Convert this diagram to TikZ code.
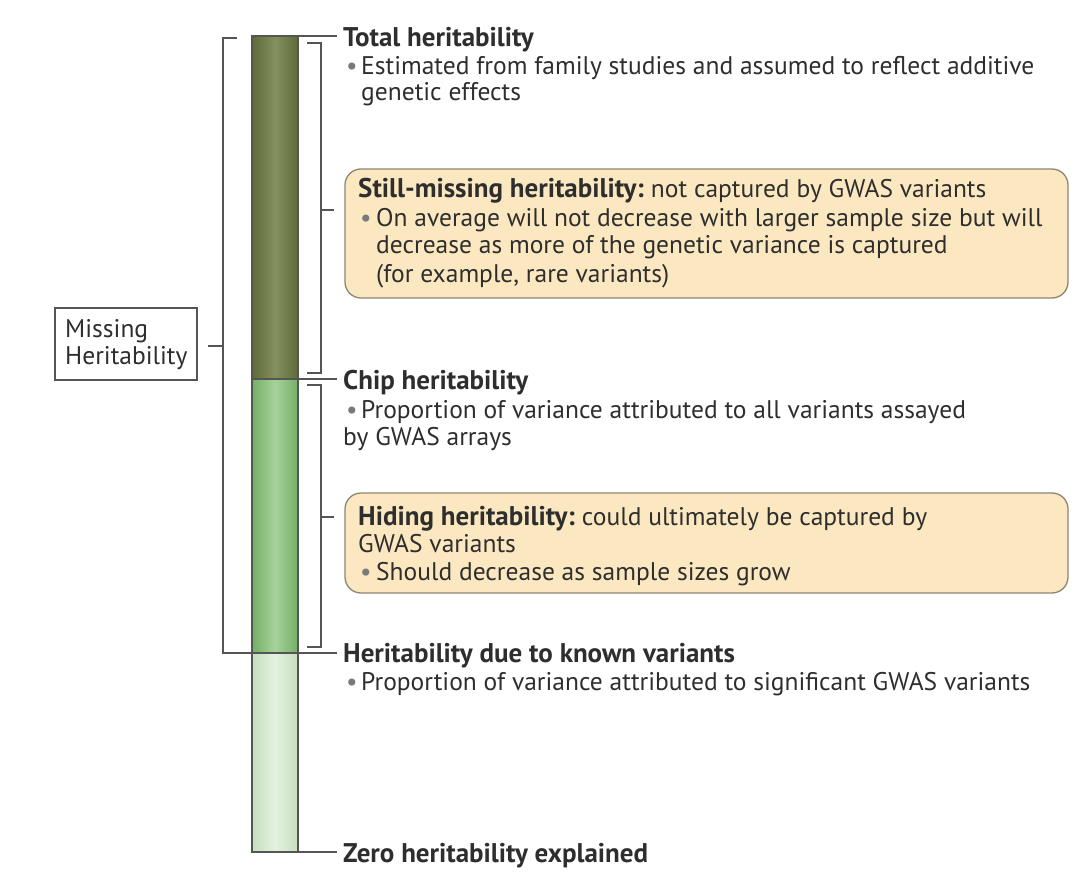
\documentclass[tikz,border=0pt]{standalone}
\usepackage{fontspec}
\setmainfont{PT Sans}
\usetikzlibrary{calc}
\definecolor{txt}{HTML}{2E2E2E}
\definecolor{bul}{HTML}{7A7A7A}
\definecolor{brk}{HTML}{555555}
\definecolor{dkA}{HTML}{5E6B38}
\definecolor{dkB}{HTML}{84915E}
\definecolor{mdA}{HTML}{74AF66}
\definecolor{mdB}{HTML}{A6D29A}
\definecolor{ltA}{HTML}{C4E0BD}
\definecolor{ltB}{HTML}{E4F1E0}
\definecolor{boxfill}{HTML}{FBE8C0}
\definecolor{boxdraw}{HTML}{8E8572}
\begin{document}
\begin{tikzpicture}[x=1pt,y=-1pt,
  barseg/.style={draw=brk,line width=1.6pt,minimum width=46pt,inner sep=0pt,outer sep=0pt},
  brack/.style={draw=brk,line width=1.3pt},
  ttl/.style={anchor=base west,inner sep=0pt,font=\fontsize{27}{30}\selectfont\bfseries,text=txt},
  body/.style={anchor=base west,inner sep=0pt,font=\fontsize{25.5}{28}\selectfont,text=txt},
  bult/.style={anchor=base west,inner sep=0pt,font=\fontsize{25.5}{28}\selectfont,text=bul},
  infobox/.style={draw=boxdraw,line width=1.3pt,fill=boxfill,rounded corners=16pt,inner sep=0pt}]
\useasboundingbox (0,0) rectangle (1080,888);
% bar segments
\node[barseg,minimum height=343pt,left color=dkA,right color=dkA,middle color=dkB] (seg1) at (275,207.5) {};
\node[barseg,minimum height=274pt,left color=mdA,right color=mdA,middle color=mdB] (seg2) at (275,516) {};
\node[barseg,minimum height=199pt,left color=ltA,right color=ltA,middle color=ltB] (seg3) at (275,752.5) {};
% info boxes
\node[infobox,minimum width=723pt,minimum height=129pt] (box1) at (706.5,233.5) {};
\node[infobox,minimum width=723pt,minimum height=100pt] (box2) at (706.5,543) {};
% texts
\node[ttl] (t1) at (343,47) {Total heritability};
\node[bult] (b1) at (346,75) {•};
\node[body] (t1a) at (361,75) {Estimated from family studies and assumed to reflect additive};
\node[body] (t1b) at (361,101) {genetic effects};

\node[ttl] (s1) at (358,198) {Still-missing heritability:};
\node[body] (s1x) at (s1.base east) {\ not captured by GWAS variants};
\node[bult] (b2) at (360,226) {•};
\node[body] (s1a) at (376,226) {On average will not decrease with larger sample size but will};
\node[body] (s1b) at (376,254) {decrease as more of the genetic variance is captured};
\node[body] (s1c) at (376,282) {(for example, rare variants)};

\node[ttl] (c1) at (343,389) {Chip heritability};
\node[bult] (b3) at (346,418) {•};
\node[body] (c1a) at (361,418) {Proportion of variance attributed to all variants assayed};
\node[body] (c1b) at (343,445) {by GWAS arrays};

\node[ttl] (h1) at (358,525) {Hiding heritability:};
\node[body] (h1x) at (h1.base east) {\ could ultimately be captured by};
\node[body] (h1a) at (358,552) {GWAS variants};
\node[bult] (b4) at (360,580) {•};
\node[body] (h1b) at (376,580) {Should decrease as sample sizes grow};

\node[ttl] (k1) at (343,662) {Heritability due to known variants};
\node[bult] (b5) at (346,690) {•};
\node[body] (k1a) at (361,690) {Proportion of variance attributed to significant GWAS variants};

\node[ttl] (z1) at (343,862) {Zero heritability explained};

% missing heritability box
\node[draw=brk,line width=1.3pt,minimum width=142pt,minimum height=72pt,inner sep=0pt] (mh) at (126,344) {};
\node[body,align=left,anchor=west,font=\fontsize{25.5}{27}\selectfont] (mht) at (65,345) {Missing\\Heritability};

% level lines
\draw[brack] (seg1.north east) -- ($(t1.west |- seg1.north east)+(-6,0)$);
\draw[brack] (seg2.north east) -- ($(c1.west |- seg2.north east)+(-6,0)$);
\draw[brack] (seg3.north east) -- ($(k1.west |- seg3.north east)+(-6,0)$);
\draw[brack] (seg3.south east) -- ($(z1.west |- seg3.south east)+(-6,0)$);
% inner brackets
\coordinate (ib1t) at (321,43);
\coordinate (ib1b) at (321,373);
\coordinate (ib1m) at (321,210);
\draw[brack] (307,43) -- (ib1t) -- (ib1b) -- (307,373);
\draw[brack] (ib1m) -- ($(box1.west |- ib1m)+(-10,0)$);
\coordinate (ib2t) at (321,385);
\coordinate (ib2b) at (321,647);
\coordinate (ib2m) at (321,517);
\draw[brack] (307,385) -- (ib2t) -- (ib2b) -- (307,647);
\draw[brack] (ib2m) -- ($(box2.west |- ib2m)+(-10,0)$);
% outer bracket
\coordinate (obt) at (223,38);
\coordinate (obb) at (223,653);
\coordinate (obm) at (223,346);
\draw[brack] (237,38) -- (obt) -- (obb) -- (seg3.north west);
\draw[brack] (obm) -- ($(mh.east |- obm)+(10,0)$);
\end{tikzpicture}
\end{document}
